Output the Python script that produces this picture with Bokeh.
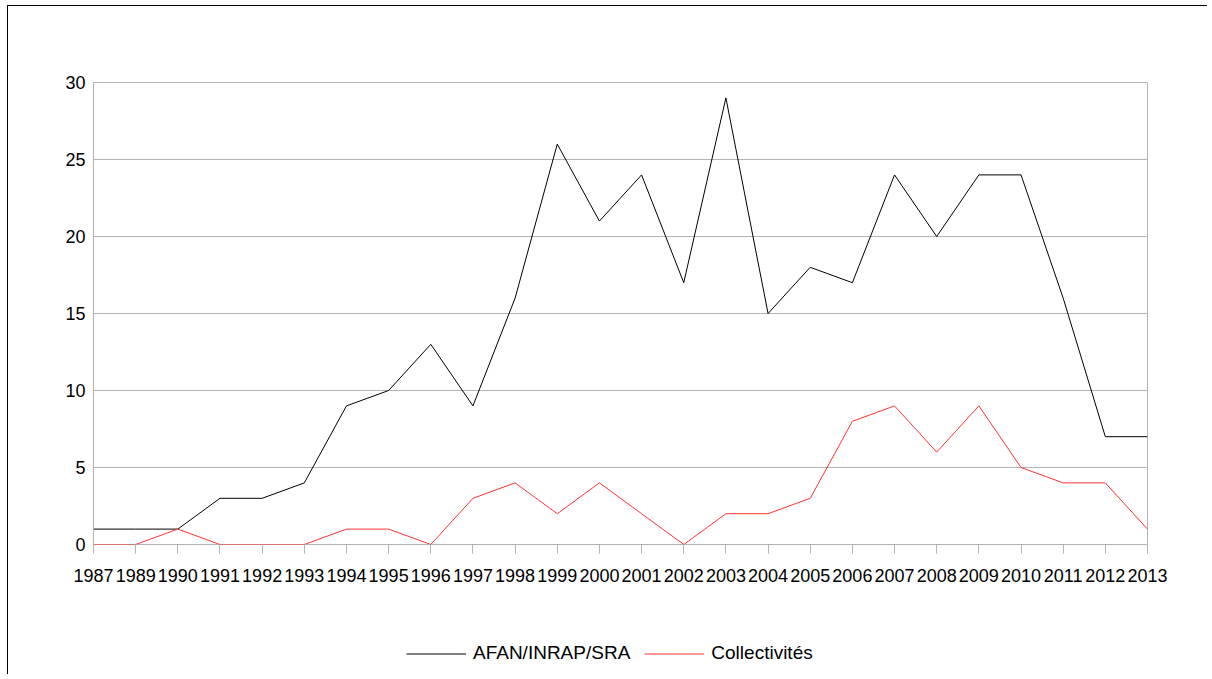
from bokeh.plotting import figure
from bokeh.models import Range1d, FixedTicker, Legend, LegendItem
from bokeh.layouts import column
from bokeh.embed import file_html
from bokeh.resources import INLINE

years = ["1987", "1989", "1990", "1991", "1992", "1993", "1994", "1995", "1996", "1997",
         "1998", "1999", "2000", "2001", "2002", "2003", "2004", "2005", "2006", "2007",
         "2008", "2009", "2010", "2011", "2012", "2013"]
afan = [1, 1, 1, 3, 3, 4, 9, 10, 13, 9, 16, 26, 21, 24, 17, 29, 15, 18, 17, 24, 20, 24, 24, 16, 7, 7]
collectivites = [0, 0, 1, 0, 0, 0, 1, 1, 0, 3, 4, 2, 4, 2, 0, 2, 2, 3, 8, 9, 6, 9, 5, 4, 4, 1]
series_names = ["AFAN/INRAP/SRA", "Collectivités"]
y_ticks = [0, 5, 10, 15, 20, 25, 30]

xs = list(range(len(years)))
FONT = "Liberation Sans"
BLACK = "black"
RED = "#ff3333"
GRAY = "#b3b3b3"

p = figure(width=1199, height=588, output_backend="svg", toolbar_location=None,
           x_range=Range1d(0, len(years) - 1), y_range=Range1d(0, 30),
           min_border_left=85, min_border_right=60, min_border_top=76, min_border_bottom=50)
p.background_fill_color = "white"
p.border_fill_color = "white"
p.outline_line_color = GRAY
p.outline_line_width = 1

p.xgrid.grid_line_color = None
p.ygrid.grid_line_color = GRAY
p.ygrid.ticker = FixedTicker(ticks=y_ticks)

p.xaxis.ticker = FixedTicker(ticks=xs)
p.xaxis.major_label_overrides = {i: y for i, y in enumerate(years)}
p.xaxis.axis_line_color = None
p.xaxis.major_tick_line_color = GRAY
p.xaxis.major_tick_out = 9
p.xaxis.major_tick_in = 0
p.xaxis.minor_tick_line_color = None
p.xaxis.major_label_text_font = FONT
p.xaxis.major_label_text_font_size = "18px"
p.xaxis.major_label_text_color = "black"
p.xaxis.major_label_standoff = 15

p.yaxis.ticker = FixedTicker(ticks=y_ticks)
p.yaxis.axis_line_color = None
p.yaxis.major_tick_line_color = None
p.yaxis.major_tick_out = 0
p.yaxis.major_tick_in = 0
p.yaxis.minor_tick_line_color = None
p.yaxis.major_label_text_font = FONT
p.yaxis.major_label_text_font_size = "18px"
p.yaxis.major_label_text_color = "black"
p.yaxis.major_label_standoff = 8

p.line(xs, afan, line_color=BLACK, line_width=1)
p.line(xs, collectivites, line_color=RED, line_width=1)

# legend strip below the chart (its sample lines lie outside the visible range)
q = figure(width=1199, height=80, output_backend="svg", toolbar_location=None,
           x_range=Range1d(0, 1), y_range=Range1d(0, 1),
           min_border=0, outline_line_color=None)
q.axis.visible = False
q.grid.visible = False
q.border_fill_color = "white"
r1 = q.line([5, 6], [5, 6], line_color=BLACK, line_width=1)
r2 = q.line([5, 6], [5, 6], line_color=RED, line_width=1)
legend = Legend(items=[LegendItem(label=series_names[0], renderers=[r1]),
                       LegendItem(label=series_names[1], renderers=[r2])],
                orientation="horizontal", location=(313, 10),
                glyph_width=60, glyph_height=19, label_standoff=7, spacing=14,
                label_text_font=FONT, label_text_font_size="19px",
                label_text_color="black",
                border_line_color=None, background_fill_alpha=0,
                margin=0, padding=0)
legend.label_text_baseline = "middle"
q.add_layout(legend, "center")

layout = column(p, q, spacing=0,
                styles={"border-left": "1px solid black", "border-top": "1px solid black",
                        "margin-left": "7px", "margin-top": "5px"})

open("out.html", "w").write(file_html(layout, INLINE))
